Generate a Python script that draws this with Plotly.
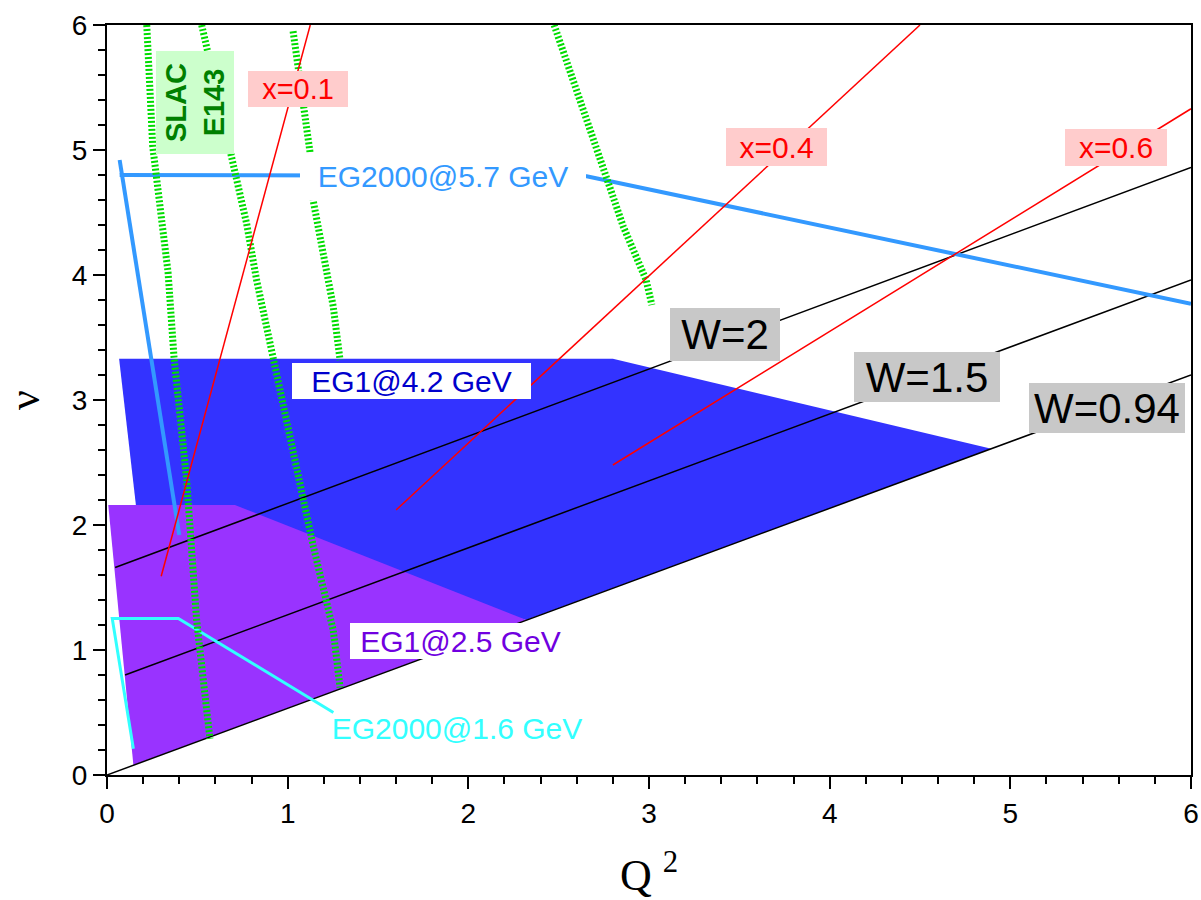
import plotly.graph_objects as go

# ---------------- data ----------------
# coverage regions (Q^2, nu) polygons
eg1_42_q2 = [0.067, 2.80, 4.895, 2.32, 0.16]
eg1_42_nu = [3.33, 3.33, 2.61, 1.24, 2.16]
eg1_25_q2 = [0.007, 0.708, 2.322, 0.146]
eg1_25_nu = [2.16, 2.16, 1.24, 0.08]

# constant-W lines
w_names = ["W=0.94", "W=1.5", "W=2"]
w_q2 = [[0.0, 6.0], [0.10, 6.0], [0.045, 6.0]]
w_nu = [[0.0, 3.20], [0.80, 3.96], [1.66, 4.86]]

# constant-x lines
x_names = ["x=0.1", "x=0.4", "x=0.6"]
x_q2 = [[0.30, 1.125], [1.60, 4.50], [2.80, 6.0]]
x_nu = [[1.59, 6.0], [2.12, 6.0], [2.48, 5.33]]

# EG2000 @ 5.7 GeV boundary
eg2000_57_left_q2 = [0.07, 0.40]
eg2000_57_left_nu = [4.92, 1.92]
eg2000_57_q2 = [0.07, 2.655, 6.0]
eg2000_57_nu = [4.80, 4.79, 3.77]

# EG2000 @ 1.6 GeV boundary
eg2000_16_q2 = [0.146, 0.029, 0.395, 1.253]
eg2000_16_nu = [0.21, 1.253, 1.253, 0.50]

# SLAC E143 curves (nu, Q^2 samples)
slac_nu = [
    [6.0, 5.03, 4.02, 3.34, 2.36, 1.69, 1.24, 0.76, 0.29],
    [6.0, 4.88, 4.41, 3.96, 3.48, 2.92, 2.25, 1.83, 1.16, 0.70],
    [5.95, 5.35, 4.99, 4.59, 4.15, 3.75, 3.32],
    [6.0, 5.75, 4.84, 4.39, 3.96, 3.76],
]
slac_q2 = [
    [0.22, 0.253, 0.338, 0.371, 0.441, 0.469, 0.496, 0.533, 0.57],
    [0.524, 0.70, 0.773, 0.828, 0.90, 0.976, 1.086, 1.142, 1.252, 1.29],
    [1.03, 1.086, 1.123, 1.142, 1.197, 1.252, 1.29],
    [2.475, 2.533, 2.753, 2.857, 2.984, 3.016],
]

tick_vals = [0, 1, 2, 3, 4, 5, 6]
tick_text = ["0", "1", "2", "3", "4", "5", "6"]

# ---------------- figure ----------------
fig = go.Figure()

fig.add_trace(go.Scatter(x=eg1_42_q2, y=eg1_42_nu, fill="toself", mode="lines",
                         line=dict(width=0, color="#3333FF"), fillcolor="#3333FF",
                         hoverinfo="skip"))
fig.add_trace(go.Scatter(x=eg1_25_q2, y=eg1_25_nu, fill="toself", mode="lines",
                         line=dict(width=0, color="#9933FF"), fillcolor="#9933FF",
                         hoverinfo="skip"))

for xs, ys in zip(w_q2, w_nu):
    fig.add_trace(go.Scatter(x=xs, y=ys, mode="lines",
                             line=dict(color="black", width=1.5), hoverinfo="skip"))

fig.add_trace(go.Scatter(x=eg2000_57_left_q2, y=eg2000_57_left_nu, mode="lines",
                         line=dict(color="#3399FF", width=4), hoverinfo="skip"))
fig.add_trace(go.Scatter(x=eg2000_57_q2, y=eg2000_57_nu, mode="lines",
                         line=dict(color="#3399FF", width=4), hoverinfo="skip"))
fig.add_trace(go.Scatter(x=eg2000_16_q2, y=eg2000_16_nu, mode="lines",
                         line=dict(color="#33FFFF", width=3), hoverinfo="skip"))

for xs, ys in zip(slac_q2, slac_nu):
    fig.add_trace(go.Scatter(x=xs, y=ys, mode="lines",
                             line=dict(color="#00DD00", width=7, dash="2px,2px"),
                             hoverinfo="skip"))

for xs, ys in zip(x_q2, x_nu):
    fig.add_trace(go.Scatter(x=xs, y=ys, mode="lines",
                             line=dict(color="#FF0000", width=1.5), hoverinfo="skip"))

LBL = "Liberation Sans, Arial, sans-serif"


def label(text, x, y, w, h, color, bg, size, angle=0):
    fig.add_annotation(x=x, y=y, xref="x", yref="y", text=text, showarrow=False,
                       font=dict(family=LBL, size=size, color=color),
                       bgcolor=bg, width=w, height=h, borderpad=0, borderwidth=0,
                       textangle=angle, align="center", valign="middle")


label("x=0.1", 1.057, 5.488, 100, 36, "#FF0000", "#FFCCCC", 29)
label("x=0.4", 3.706, 5.024, 101, 38, "#FF0000", "#FFCCCC", 30)
label("x=0.6", 5.585, 5.020, 102, 37, "#FF0000", "#FFCCCC", 30)
label("W=2", 3.421, 3.524, 110, 53, "black", "#C8C8C8", 42)
label("W=1.5", 4.539, 3.184, 146, 50, "black", "#C8C8C8", 42)
label("W=0.94", 5.535, 2.936, 156, 50, "black", "#C8C8C8", 42)
label("EG1@4.2 GeV", 1.685, 3.152, 239, 36, "#0000CC", "white", 30)
label("EG1@2.5 GeV", 1.959, 1.072, 221, 36, "#7000E0", "white", 30)
label("EG2000@1.6 GeV", 1.937, 0.376, 270, 36, "#33FFFF", "rgba(0,0,0,0)", 30)
label("EG2000@5.7 GeV", 1.860, 4.788, 286, 47, "#3399FF", "white", 30)
label("<b>SLAC</b><br><b>E143</b>", 0.487, 5.384, 103, 78, "#008000", "#CCFFCC", 29,
      angle=-90)

axis_common = dict(
    range=[0, 6], tickmode="array", tickvals=tick_vals, ticktext=tick_text,
    showgrid=False, zeroline=False, showline=True, linecolor="black", linewidth=2,
    mirror=True, ticks="outside", ticklen=12, tickwidth=2, tickcolor="black",
    automargin=False,
    tickfont=dict(family=LBL, size=28, color="black"),
    minor=dict(dtick=0.2, tick0=0, ticks="outside", ticklen=7, tickwidth=1.5,
               tickcolor="black", showgrid=False),
)

fig.update_layout(
    width=1201, height=900,
    margin=dict(l=107, r=10, t=25, b=125),
    paper_bgcolor="white", plot_bgcolor="white",
    showlegend=False,
    xaxis=dict(**axis_common,
               title=dict(text="Q <sup>2</sup>", standoff=34,
                          font=dict(family="Liberation Serif, Times New Roman, serif",
                                    size=44, color="black"))),
    yaxis=dict(**axis_common,
               title=dict(text="ν", standoff=30,
                          font=dict(family="Liberation Serif, Times New Roman, serif",
                                    size=44, color="black"))),
)

fig.write_html("out.html")
